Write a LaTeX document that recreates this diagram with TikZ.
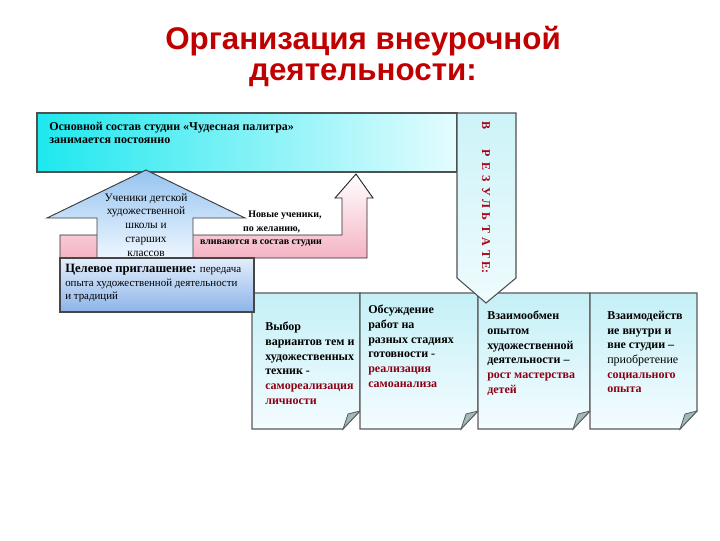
\documentclass[tikz,border=0pt]{standalone}
\usepackage{fontspec}
\setmainfont{Liberation Serif}
\newfontfamily\titlefont{Liberation Sans}
\usepackage{tikz}

\begin{document}
\begin{tikzpicture}[x=0.75pt,y=0.75pt,yscale=-1,xscale=1,
  titletext/.style={font=\titlefont\bfseries\fontsize{23.5}{28}\selectfont, text={rgb,255:red,192;green,0;blue,0}},
  notecard/.style={draw={rgb,255:red,90;green,90;blue,90}, line width=0.8pt, top color={rgb,255:red,196;green,240;blue,246}, bottom color={rgb,255:red,244;green,252;blue,255}},
  notefold/.style={draw={rgb,255:red,90;green,90;blue,90}, line width=0.6pt, fill={rgb,255:red,160;green,185;blue,185}},
  cardtext/.style={anchor=north west, inner sep=0.75pt, align=left, font=\bfseries\fontsize{9}{11}\selectfont},
  redword/.style={text={rgb,255:red,140;green,0;blue,20}}
]
\path[use as bounding box] (0,0) rectangle (720,540);

%Note cards
\foreach \xl/\xr in {252/360,360/478,478/590,590/697}{
  \draw[notecard] (\xl,293) -- (\xr,293) -- (\xr,411) -- (\xr-17,429) -- (\xl,429) -- cycle ;
  \draw[notefold] (\xr,411) -- (\xr-17,429) -- (\xr-12,414) -- cycle ;
}

%Shape: top rectangle
\draw[draw={rgb,255:red,80;green,80;blue,80}, line width=0.8pt, left color={rgb,255:red,30;green,232;blue,238}, right color={rgb,255:red,228;green,252;blue,255}] (37,113) rectangle (457,172) ;
%Shape: down arrow
\draw[draw={rgb,255:red,80;green,80;blue,80}, line width=0.8pt, top color={rgb,255:red,205;green,243;blue,248}, bottom color={rgb,255:red,238;green,251;blue,253}] (457,113) -- (516,113) -- (516,278) -- (486,303) -- (457,278) -- cycle ;

%Shape: pink bent arrow
\draw[draw={rgb,255:red,40;green,40;blue,40}, line width=0.7pt, top color=white, bottom color={rgb,255:red,244;green,180;blue,196}] (60,235) -- (342,235) -- (342,198) -- (335,198) -- (356,174) -- (373,198) -- (367,198) -- (367,258) -- (60,258) -- cycle ;

%Shape: house
\draw[draw={rgb,255:red,60;green,60;blue,60}, line width=0.7pt, top color={rgb,255:red,150;green,196;blue,240}, bottom color={rgb,255:red,238;green,246;blue,255}] (97,258) -- (97,218) -- (47,218) -- (146,170) -- (245,218) -- (193,218) -- (193,258) -- cycle ;

%Shape: invitation box
\draw[draw={rgb,255:red,70;green,70;blue,70}, line width=0.8pt, top color={rgb,255:red,228;green,238;blue,252}, bottom color={rgb,255:red,140;green,180;blue,232}] (60,258) rectangle (254,312) ;

% Text Node
\draw (363,41) node (title1) [titletext] {Организация внеурочной};
% Text Node
\draw (363,75) node (title2) [titletext] {деятельности:};
% Text Node
\draw (48,121) node (core) [anchor=north west, inner sep=0.75pt, align=left, font=\bfseries\fontsize{9}{9.5}\selectfont] {Основной состав студии «Чудесная палитра»\\занимается постоянно};
% Text Node
\draw (146,192) node (pupils) [anchor=north, inner sep=0.75pt, align=center, font=\fontsize{8.5}{10.4}\selectfont] {Ученики детской\\художественной\\школы и\\старших\\классов};
% Text Node
\draw (261,210) node (newcomers) [anchor=north, inner sep=0.75pt, align=center, font=\bfseries\fontsize{7.5}{10}\selectfont] {\hspace*{36pt}Новые ученики,\\\hspace*{16pt}по желанию,\\вливаются в состав студии};
% Text Node
\draw (64,263) node (invite) [anchor=north west, inner sep=0.75pt, align=left, font=\fontsize{8.2}{10.2}\selectfont] {{\bfseries\fontsize{9.5}{10.2}\selectfont Целевое приглашение:} передача\\опыта художественной деятельности\\и традиций};

% Text Node
\draw (486,125) node (res0) [rotate=-90, inner sep=0.75pt, font=\bfseries\fontsize{9}{10}\selectfont, text={rgb,255:red,170;green,0;blue,20}] {В};
\foreach \ch [count=\i] in {Р,Е,З,У,Л,Ь,Т,А,Т,Е:}{
  \draw (486,141+12.6*\i) node (res\i) [rotate=-90, inner sep=0.75pt, font=\bfseries\fontsize{9}{10}\selectfont, text={rgb,255:red,170;green,0;blue,20}] {\ch};
}

% Text Node
\draw (264,321) node (choice) [cardtext] {Выбор\\вариантов тем и\\художественных\\техник -\\\textcolor[RGB]{140,0,20}{самореализация}\\\textcolor[RGB]{140,0,20}{личности}};
% Text Node
\draw (367,304) node (discuss) [cardtext] {Обсуждение\\работ на\\разных стадиях\\готовности -\\\textcolor[RGB]{140,0,20}{реализация}\\\textcolor[RGB]{140,0,20}{самоанализа}};
% Text Node
\draw (486,310) node (exchange) [cardtext] {Взаимообмен\\опытом\\художественной\\деятельности –\\\textcolor[RGB]{140,0,20}{рост мастерства}\\\textcolor[RGB]{140,0,20}{детей}};
% Text Node
\draw (606,310) node (social) [cardtext] {Взаимодейств\\ие внутри и\\вне студии –\\{\mdseries приобретение}\\\textcolor[RGB]{140,0,20}{социального}\\\textcolor[RGB]{140,0,20}{опыта}};

\end{tikzpicture}
\end{document}
